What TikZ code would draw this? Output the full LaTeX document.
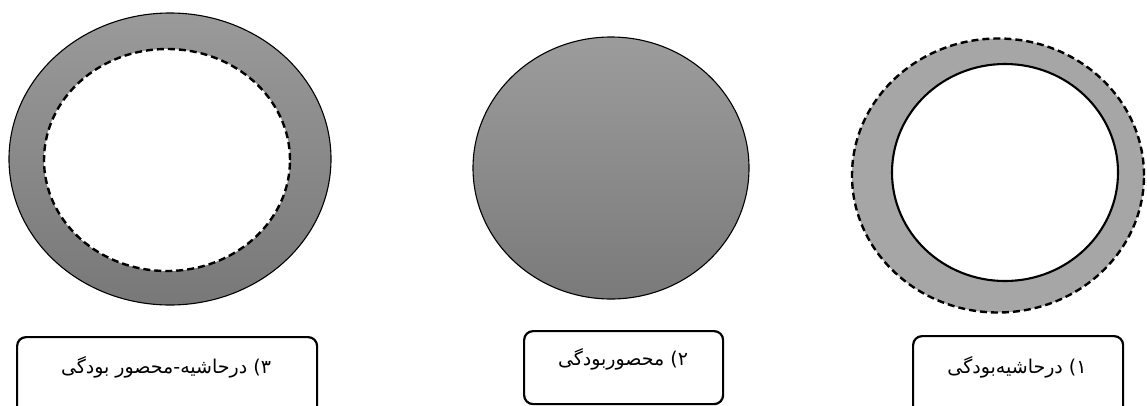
\documentclass[tikz,border=0pt]{standalone}
\usepackage{fontspec}
\newfontfamily\arabicfont[Script=Arabic]{DejaVu Sans}
\TeXXeTstate=1
\begin{document}
\begin{tikzpicture}[x=1pt,y=1pt,
  label box/.style={draw=black, line width=2.2pt, rounded corners=9pt, fill=white, inner sep=0pt},
  labeltext/.style={font=\arabicfont\fontsize{19}{21}\selectfont},
  outline/.style={draw=black, line width=1.1pt},
  dashline/.style={draw=black, line width=2.4pt, dash pattern=on 7pt off 4pt},
  solidline/.style={draw=black, line width=2.1pt}]
\useasboundingbox (0,0) rectangle (1147,-405);
% --- 3) left: shaded outer, dashed inner
\shade[top color={rgb,255:red,154;green,154;blue,154}, bottom color={rgb,255:red,120;green,120;blue,120}, outline]
  (170,-159) ellipse [x radius=161, y radius=146];
\fill[white, dashline] (167,-160) ellipse [x radius=123, y radius=111];
% --- 2) middle: shaded disc
\shade[top color={rgb,255:red,156;green,156;blue,156}, bottom color={rgb,255:red,122;green,122;blue,122}, outline]
  (611,-168) ellipse [x radius=138, y radius=131];
% --- 1) right: light gray ring, dashed outer, solid inner
\fill[fill={rgb,255:red,166;green,166;blue,166}, dashline] (998,-175.5) ellipse [x radius=146, y radius=137];
\fill[white, solidline] (1005,-172.5) ellipse [x radius=113, y radius=108.5];
% --- label boxes
\node[label box, minimum width=300pt, minimum height=90pt, anchor=north west] (b3) at (16,-336) {};
\node[label box, minimum width=199pt, minimum height=73pt, anchor=north west] (b2) at (523,-330) {};
\node[label box, minimum width=210pt, minimum height=90pt, anchor=north west] (b1) at (912,-335) {};
\node[labeltext] (t3) at (166,-367) {\beginR ۳) درحاشیه-محصور بودگی\endR};
\node[labeltext] (t2) at (623,-359) {\beginR ۲) محصوربودگی\endR};
\node[labeltext] (t1) at (1017,-367) {\beginR ۱) درحاشیه‌بودگی\endR};
\end{tikzpicture}
\end{document}
